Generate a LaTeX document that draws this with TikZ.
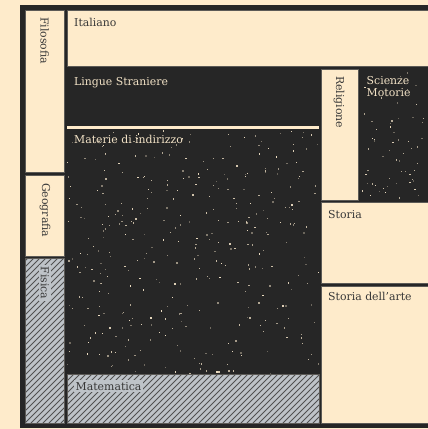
\documentclass[tikz,border=0pt]{standalone}
\usepackage{fontspec}
\setmainfont{DejaVu Serif}
\definecolor{paper}{HTML}{FEEBCB}
\definecolor{ink}{HTML}{262626}
\definecolor{edge}{HTML}{5C5A56}
\definecolor{slate}{HTML}{BEC3C8}
\definecolor{txt}{HTML}{383838}
\definecolor{speck}{HTML}{F2E2C6}
\newcommand{\lblfont}{\fontsize{10.9}{13}\selectfont}
\tikzset{
  cell/.style={fill=paper, draw=edge, line width=0.7pt},
  lbl/.style={anchor=base west, inner sep=0pt, text=txt, font=\lblfont},
  lbldark/.style={lbl, text=speck},
  vlbl/.style={lbl, rotate=-90},
  tagbg/.style={fill=slate, inner sep=1.5pt, text=txt, font=\lblfont},
}
% hatched cell: #1,#2 top-left, #3,#4 bottom-right
\newcommand{\hatchcell}[4]{%
  \fill[slate] (#1,#2) rectangle (#3,#4);
  \begin{scope}
    \clip (#1,#2) rectangle (#3,#4);
    \foreach \k in {-204,-198,...,300}{
      \draw[ink!80, line width=0.8pt] ({#1+\k},#4) -- ({#1+\k+(#4-#2)},#2);
    }
  \end{scope}
  \draw[edge, line width=0.7pt] (#1,#2) rectangle (#3,#4);
}
% random specks in a region: x0,y0,width,height,count
\newcommand{\specks}[5]{%
  \foreach \i in {1,...,#5}{
    \pgfmathsetmacro\dx{#1+(#3)*rnd}
    \pgfmathsetmacro\dy{#2+(#4)*rnd}
    \pgfmathsetmacro\op{0.3+0.7*rnd}
    \fill[speck, opacity=\op] (\dx,\dy) rectangle ++(1.3,1.3);
  }
}
\begin{document}
\begin{tikzpicture}[x=1pt, y=-1pt]
\useasboundingbox (0,0) rectangle (428,429);
\fill[paper] (0,0) rectangle (428,429);
% dark frame and background
\fill[ink] (20,5) rectangle (430,428);

% left column
\draw[cell] (25,10) rectangle (64.5,172.5);
\draw[cell] (25,175.5) rectangle (64.5,256.5);
\hatchcell{25}{258}{64.5}{423}

% top row
\draw[cell] (67,10) rectangle (432,66.5);

% separator line above Materie
\fill[paper] (67,126) rectangle (319,128.5);

% Materie di indirizzo specks
\pgfmathsetseed{7}
\specks{67}{130}{251}{243}{360}
% Scienze Motorie specks
\specks{359}{70}{68}{129}{60}

% Matematica
\hatchcell{67}{374}{319}{423}

% right column
\draw[cell] (321,69.5) rectangle (358,200);
\draw[cell] (321,202) rectangle (432,283.5);
\draw[cell] (321,286) rectangle (432,423);

% labels
\node[lbl] (ita) at (74,26) {Italiano};
\node[lbldark] (lin) at (74,85) {Lingue Straniere};
\node[lbldark] (mat) at (74,143.5) {Materie di indirizzo};
\node[lbldark, align=left, anchor=north west] (sci) at (366.5,76) {Scienze\\[-0.5pt]Motorie};
\node[lbl] (sto) at (328,218) {Storia};
\node[lbl] (art) at (328,300) {Storia dell’arte};
\node[tagbg, anchor=base west] (mtm) at (74,390) {Matematica};

\node[vlbl] (fil) at (40.5,17) {Filosofia};
\node[vlbl] (geo) at (42,183) {Geografia};
\node[tagbg, rotate=-90, anchor=base west] (fis) at (41,265) {Fisica};
\node[vlbl] (rel) at (336,76) {Religione};
\end{tikzpicture}
\end{document}
